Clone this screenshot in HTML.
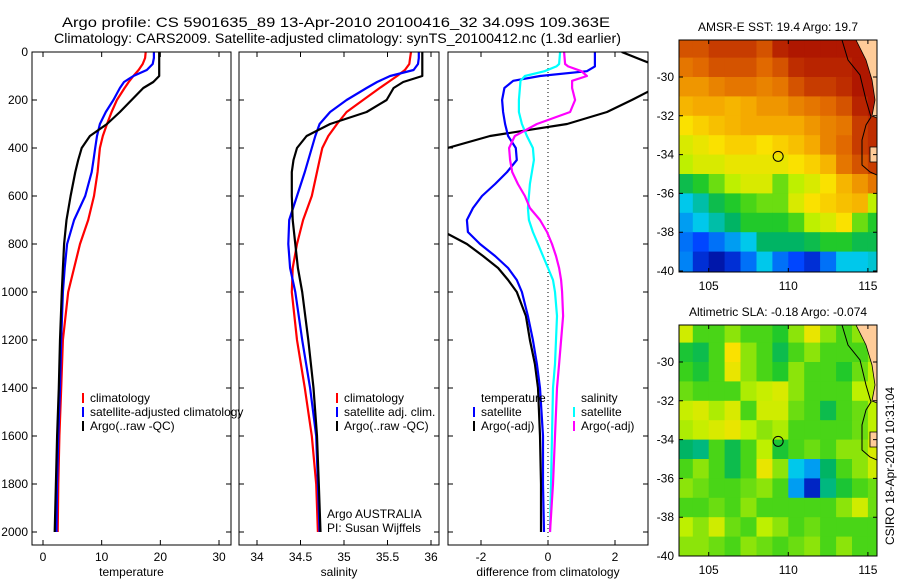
<!DOCTYPE html>
<html><head><meta charset="utf-8">
<style>
html,body{margin:0;padding:0;background:#fff;}
svg{display:block;font-family:"Liberation Sans",sans-serif;}
</style></head>
<body>
<svg id="fig" width="900" height="580" viewBox="0 0 900 580" xmlns="http://www.w3.org/2000/svg">
<defs>
<clipPath id="c1"><rect x="32" y="52" width="199" height="493"/></clipPath>
<clipPath id="c2"><rect x="239" y="52" width="200" height="493"/></clipPath>
<clipPath id="c3"><rect x="448" y="52" width="200" height="493"/></clipPath>
<clipPath id="cm1"><rect x="679" y="40" width="198" height="232"/></clipPath>
<clipPath id="cm2"><rect x="679" y="325" width="198" height="231"/></clipPath>
</defs>
<text x="62" y="27" font-size="14" textLength="548" lengthAdjust="spacingAndGlyphs">Argo profile: CS 5901635_89 13-Apr-2010 20100416_32 34.09S 109.363E</text>
<text x="54" y="43" font-size="14" textLength="567" lengthAdjust="spacingAndGlyphs">Climatology: CARS2009. Satellite-adjusted climatology: synTS_20100412.nc (1.3d earlier)</text>
<text x="778" y="31" font-size="12" text-anchor="middle">AMSR-E SST: 19.4 Argo: 19.7</text>
<text x="778" y="316" font-size="12" text-anchor="middle">Altimetric SLA: -0.18 Argo: -0.074</text>
<text transform="translate(894,466) rotate(-90)" font-size="12" text-anchor="middle">CSIRO 18-Apr-2010 10:31:04</text>
<text x="327" y="518" font-size="12">Argo AUSTRALIA</text>
<text x="327" y="532" font-size="12">PI: Susan Wijffels</text>
</svg>
<script>
// ---------- profile data ----------
const depthLevels = [0,25,50,75,100,125,150,200,250,300,350,400,450,500,600,700,800,900,1000,1200,1400,1600,1800,2000];
const tempClim = [17.5,17.4,17.0,16.3,15.4,14.6,13.9,12.6,11.7,10.9,10.2,9.7,9.5,9.3,8.7,7.7,6.3,5.3,4.3,3.4,3.1,2.8,2.6,2.5];
const tempSat  = [18.9,18.9,18.7,17.7,15.4,13.8,13.1,12.0,10.7,9.7,9.2,8.9,8.6,8.3,7.2,5.3,4.1,3.7,3.4,3.1,2.9,2.6,2.4,2.3];
const tempArgo = [19.8,19.8,19.8,19.8,19.8,18.8,17.1,15.1,13.1,10.9,8.0,6.6,6.0,5.5,4.7,4.0,3.6,3.4,3.2,2.9,2.7,2.4,2.2,2.0];
const salClim = [35.77,35.76,35.75,35.70,35.61,35.51,35.41,35.22,35.03,34.92,34.82,34.75,34.72,34.69,34.63,34.53,34.46,34.41,34.40,34.46,34.55,34.63,34.68,34.70];
const salSat  = [35.86,35.86,35.85,35.80,35.53,35.38,35.26,35.03,34.84,34.72,34.67,34.63,34.59,34.55,34.46,34.37,34.36,34.38,34.44,34.52,34.61,34.68,34.70,34.72];
const salArgo = [35.90,35.90,35.90,35.90,35.90,35.68,35.57,35.49,35.26,34.84,34.57,34.46,34.42,34.40,34.40,34.41,34.44,34.47,34.52,34.59,34.65,34.69,34.71,34.73];
const diffDepths = [0,50,60,80,100,120,150,200,250,300,350,400,450,500,550,600,650,700,750,800,850,900,950,1000,1100,1200,1300,1400,1600,1800,2000];
const diffTempSat  = [1.4,1.4,1.4,1.16,-0.24,-1.04,-1.3,-1.37,-1.34,-1.28,-1.19,-0.96,-0.93,-1.22,-1.58,-1.97,-2.24,-2.42,-2.39,-2.03,-1.58,-1.19,-0.93,-0.78,-0.6,-0.45,-0.33,-0.24,-0.15,-0.15,-0.12];
const diffTempArgo = [2.2,3.1,3.4,4.0,4.4,3.6,3.2,2.5,1.76,0.57,-1.73,-3.0,-3.5,-3.8,-3.9,-4.0,-3.9,-3.7,-3.1,-2.42,-1.94,-1.49,-1.19,-0.93,-0.66,-0.54,-0.39,-0.3,-0.24,-0.21,-0.21];
const diffSalSat   = [0.36,0.33,0.25,-0.1,-0.69,-0.82,-0.84,-0.87,-0.87,-0.78,-0.63,-0.45,-0.42,-0.48,-0.54,-0.57,-0.6,-0.57,-0.45,-0.3,-0.15,0,0.15,0.21,0.27,0.24,0.21,0.15,0.12,0.09,0.06];
const diffSalArgo  = [0.48,0.51,0.6,1.0,1.16,0.72,0.72,0.81,0.66,-0.33,-0.99,-1.16,-1.13,-1.07,-0.9,-0.69,-0.54,-0.24,-0.03,0.12,0.24,0.33,0.39,0.42,0.45,0.39,0.33,0.27,0.21,0.15,0.06];
const depthTicks = [0,200,400,600,800,1000,1200,1400,1600,1800,2000];
const tempTicks = [0,10,20,30];
const salTicks = [34,34.5,35,35.5,36];
const diffTicks = [-2,0,2];
// ---------- map data (1-degree cells, lat -28.5..-39.5, lon 103.5..115.5), colour index 0..1 ----------
const mapLats = [-28.5,-29.5,-30.5,-31.5,-32.5,-33.5,-34.5,-35.5,-36.5,-37.5,-38.5,-39.5];
const mapLons = [103.5,104.5,105.5,106.5,107.5,108.5,109.5,110.5,111.5,112.5,113.5,114.5,115.5];
const sstGrid = [
 [0.85,0.85,0.88,0.88,0.88,0.85,0.92,0.95,0.95,0.95,0.95,0.95,0.95],
 [0.8,0.82,0.85,0.85,0.85,0.82,0.85,0.9,0.92,0.92,0.92,0.95,0.95],
 [0.75,0.75,0.78,0.8,0.8,0.78,0.8,0.85,0.88,0.88,0.9,0.95,0.95],
 [0.7,0.72,0.72,0.7,0.72,0.75,0.75,0.78,0.8,0.82,0.85,0.92,0.95],
 [0.62,0.65,0.68,0.7,0.72,0.72,0.72,0.72,0.75,0.78,0.8,0.88,0.9],
 [0.58,0.6,0.62,0.65,0.65,0.62,0.65,0.68,0.72,0.78,0.82,0.88,0.9],
 [0.55,0.58,0.58,0.6,0.6,0.6,0.6,0.62,0.65,0.7,0.8,0.85,0.88],
 [0.42,0.45,0.5,0.55,0.58,0.58,0.5,0.55,0.58,0.62,0.7,0.75,0.8],
 [0.3,0.35,0.42,0.45,0.48,0.5,0.5,0.58,0.62,0.65,0.68,0.7,0.55],
 [0.25,0.3,0.35,0.4,0.45,0.45,0.45,0.48,0.55,0.58,0.62,0.5,0.45],
 [0.2,0.15,0.2,0.25,0.3,0.4,0.4,0.4,0.42,0.45,0.45,0.42,0.42],
 [0.22,0.1,0.05,0.1,0.2,0.3,0.2,0.15,0.1,0.2,0.3,0.3,0.32]];
const slaGrid = [
 [0.57,0.48,0.48,0.52,0.48,0.48,0.45,0.52,0.6,0.52,0.48,0.52,0.52],
 [0.44,0.42,0.48,0.62,0.52,0.48,0.42,0.48,0.52,0.48,0.48,0.48,0.52],
 [0.47,0.44,0.48,0.6,0.52,0.48,0.45,0.52,0.48,0.48,0.45,0.5,0.55],
 [0.5,0.48,0.48,0.48,0.54,0.56,0.58,0.52,0.48,0.48,0.48,0.55,0.55],
 [0.56,0.58,0.54,0.58,0.48,0.57,0.57,0.5,0.48,0.42,0.48,0.5,0.55],
 [0.54,0.56,0.58,0.6,0.55,0.52,0.54,0.48,0.48,0.48,0.48,0.5,0.55],
 [0.4,0.38,0.48,0.42,0.48,0.55,0.44,0.48,0.5,0.48,0.52,0.52,0.58],
 [0.48,0.52,0.48,0.42,0.48,0.6,0.52,0.3,0.25,0.4,0.48,0.52,0.57],
 [0.52,0.5,0.48,0.48,0.5,0.52,0.48,0.25,0.08,0.38,0.44,0.48,0.5],
 [0.48,0.48,0.5,0.48,0.52,0.48,0.48,0.48,0.48,0.48,0.52,0.57,0.5],
 [0.55,0.52,0.57,0.5,0.48,0.55,0.52,0.48,0.5,0.48,0.48,0.48,0.48],
 [0.52,0.52,0.5,0.48,0.52,0.5,0.48,0.5,0.52,0.48,0.52,0.48,0.48]];
const latTicks = [-30,-32,-34,-36,-38,-40];
const lonTicks = [105,110,115];
const argoLon = 109.363, argoLat = -34.09;

const svg = document.getElementById('fig');
const NS = 'http://www.w3.org/2000/svg';
function mk(tag, parent){ const e=document.createElementNS(NS,tag); (parent||svg).appendChild(e); return e; }
function attrs(e,o){ for(const k in o) e.setAttribute(k,o[k]); return e; }

const yD = d => 52 + d*0.24;
const panels = [
 {name:'temperature', x0:32, x1:231, sx: v => 43 + v*5.867, ticks:tempTicks, label:'temperature', clip:'c1',
  series:[[tempClim,'#ff0000','climatology'],[tempSat,'#0000ff','satellite-adjusted'],[tempArgo,'#000000','argo']]},
 {name:'salinity', x0:239, x1:439, sx: v => 257 + (v-34)*87, ticks:salTicks, label:'salinity', clip:'c2',
  series:[[salClim,'#ff0000','climatology'],[salSat,'#0000ff','satellite-adjusted'],[salArgo,'#000000','argo']]},
 {name:'difference', x0:448, x1:648, sx: v => 548 + v*33.5, ticks:diffTicks, label:'difference from climatology', clip:'c3',
  series:[[diffTempArgo,'#000000','temp-argo'],[diffTempSat,'#0000ff','temp-satellite'],[diffSalSat,'#00ffff','sal-satellite'],[diffSalArgo,'#ff00ff','sal-argo']]}
];

panels.forEach((p,pi)=>{
  const g = mk('g');
  
  
  if(p.name==='difference'){
    const z = mk('line', g);
    
    
    attrs(z,{x1:p.sx(0),x2:p.sx(0),y1:52,y2:545,stroke:'#000','stroke-width':1,'stroke-dasharray':'1,3'});
  }
  const depths = p.name==='difference' ? diffDepths : depthLevels;
  const sg = mk('g', g);
  sg.setAttribute('clip-path','url(#'+p.clip+')');
  p.series.forEach(s=>{
    const pl = mk('polyline', sg);
    
    
    const pts = s[0].map((v,i)=>p.sx(v).toFixed(1)+','+yD(depths[i]).toFixed(1)).join(' ');
    attrs(pl,{points:pts,fill:'none',stroke:s[1],'stroke-width':2.2,'stroke-linejoin':'round'});
  });
  const fr = mk('rect', g);
  
  
  attrs(fr,{x:p.x0,y:52,width:p.x1-p.x0,height:493,fill:'none',stroke:'#000','stroke-width':1});
  depthTicks.forEach(d=>{
    const y=yD(d);
    const t1=mk('path',g);
    
    
    attrs(t1,{d:`M${p.x0},${y}h5M${p.x1},${y}h-5`,stroke:'#000','stroke-width':1});
    if(pi===0){
      const tl=mk('text',g);
      
      
      attrs(tl,{x:28,y:y+4,'font-size':12,'text-anchor':'end'});
      tl.textContent=d;
    }
  });
  p.ticks.forEach(v=>{
    const x=p.sx(v);
    const t=mk('path',g);
    
    
    attrs(t,{d:`M${x},52v5M${x},545v-5`,stroke:'#000','stroke-width':1});
    const tl=mk('text',g);
    
    
    attrs(tl,{x:x,y:561,'font-size':12,'text-anchor':'middle'});
    tl.textContent=String(v);
  });
  const xl=mk('text',g);
  
  
  attrs(xl,{x:(p.x0+p.x1)/2,y:576,'font-size':12,'text-anchor':'middle'});
  xl.textContent=p.label;
});

// legends
function legendEntry(x,y,color,label,name){
  if(color){
    const m=mk('rect');
    
    
    attrs(m,{x:x-8,y:y-9,width:2,height:10,fill:color});
  }
  const t=mk('text');
  
  
  attrs(t,{x:x,y:y,'font-size':12});
  t.textContent=label;
}
legendEntry(90,402,'#ff0000','climatology','legend-entry-climatology');
legendEntry(90,416,'#0000ff','satellite-adjusted climatology','legend-entry-satellite');
legendEntry(90,430,'#000000','Argo(..raw -QC)','legend-entry-argo');
legendEntry(344,402,'#ff0000','climatology','legend-entry-sal-climatology');
legendEntry(344,416,'#0000ff','satellite adj. clim.','legend-entry-sal-satellite');
legendEntry(344,430,'#000000','Argo(..raw -QC)','legend-entry-sal-argo');
legendEntry(481,402,null,'temperature','legend-heading-temperature');
legendEntry(481,416,'#0000ff','satellite','legend-entry-temp-satellite');
legendEntry(481,430,'#000000','Argo(-adj)','legend-entry-temp-argo');
legendEntry(581,402,null,'salinity','legend-heading-salinity');
legendEntry(581,416,'#00ffff','satellite','legend-entry-sal-sat');
legendEntry(581,430,'#ff00ff','Argo(-adj)','legend-entry-sal-argo-adj');

// maps
const cmapStops = [[0,[0,0,128]],[0.15,[0,70,255]],[0.3,[0,200,235]],[0.4,[0,180,100]],[0.46,[40,205,30]],[0.55,[190,240,0]],[0.62,[250,225,0]],[0.72,[245,170,0]],[0.82,[225,105,0]],[0.9,[190,45,0]],[1,[160,0,0]]];
function cmap(v){
  for(let i=1;i<cmapStops.length;i++){
    if(v<=cmapStops[i][0]){
      const a=cmapStops[i-1],b=cmapStops[i],t=(v-a[0])/(b[0]-a[0]);
      const c=a[1].map((x,k)=>Math.round(x+(b[1][k]-x)*t));
      return `rgb(${c[0]},${c[1]},${c[2]})`;
    }
  }
  return 'rgb(160,0,0)';
}
const lonX = lon => 708.7 + (lon-105)*15.92;
function drawMap(grid, top, clip, name){
  const latY = lat => top + 37 + (-30-lat)*19.4;
  const g=mk('g');
  
  
  const cg=mk('g',g); cg.setAttribute('clip-path','url(#'+clip+')');
  grid.forEach((row,r)=>row.forEach((v,c)=>{
    const cell=mk('rect',cg);
    
    
    const x=lonX(mapLons[c]-0.5), y=latY(mapLats[r]+0.5);
    attrs(cell,{x:x.toFixed(1),y:y.toFixed(1),width:16.5,height:20,fill:cmap(v)});
  }));
  const land=mk('path',cg);
  
  
  const o=top-40;
  attrs(land,{d:`M856,${40+o}L866,${60+o}L872,${80+o}L875,${100+o}L872,${116+o}L877,${118+o}L877,${40+o}Z M870,${147+o}L877,${147+o}L877,${162+o}L870,${162+o}Z`,fill:'#ffcc99',stroke:'#000','stroke-width':0.8});
  const bathy=mk('path',cg);
  
  
  attrs(bathy,{d:`M842,${40+o}L848,${60+o}L860,${75+o}L866,${100+o}L871,${117+o}L866,${125+o}L862,${140+o}L862,${165+o}L870,${172+o}L877,${175+o}`,fill:'none',stroke:'#000','stroke-width':1});
  const h=top===40?232:231;
  const fr=mk('rect',g);
  
  
  attrs(fr,{x:679,y:top,width:198,height:h,fill:'none',stroke:'#000','stroke-width':1});
  latTicks.forEach(lat=>{
    const y=latY(lat);
    const t=mk('path',g);
    
    
    attrs(t,{d:`M679,${y}h4M877,${y}h-4`,stroke:'#000'});
    const tl=mk('text',g);
    
    
    attrs(tl,{x:674,y:y+4,'font-size':12,'text-anchor':'end'});
    tl.textContent=lat;
  });
  lonTicks.forEach(lon=>{
    const x=lonX(lon);
    const t=mk('path',g);
    
    
    attrs(t,{d:`M${x},${top}v4M${x},${top+h}v-4`,stroke:'#000'});
    const tl=mk('text',g);
    
    
    attrs(tl,{x:x,y:top+h+18,'font-size':12,'text-anchor':'middle'});
    tl.textContent=lon;
  });
  const c=mk('circle',g);
  
  
  attrs(c,{cx:lonX(argoLon),cy:latY(argoLat),r:5,fill:'none',stroke:'#000','stroke-width':1});
}
drawMap(sstGrid,40,'cm1','sst-map');
drawMap(slaGrid,325,'cm2','sla-map');
</script>
</body></html>
